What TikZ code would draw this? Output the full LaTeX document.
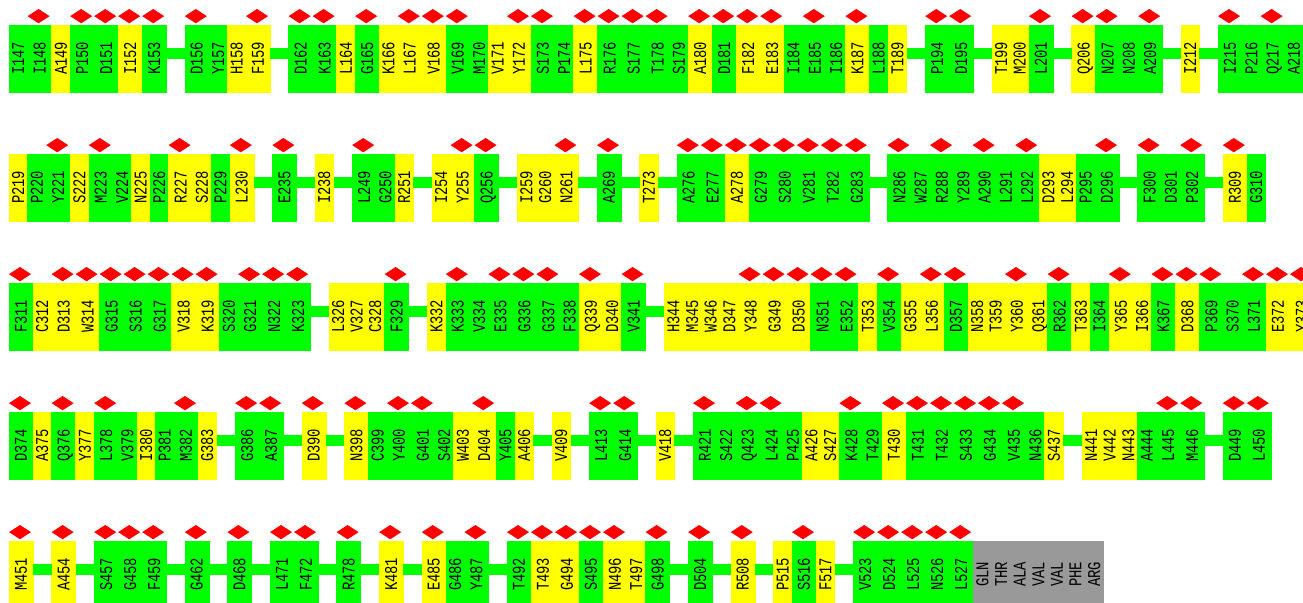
\documentclass[tikz,border=0pt]{standalone}
\usepackage{fontspec}
\setmonofont{Liberation Mono}
\usetikzlibrary{calc}
\definecolor{colG}{RGB}{0,255,0}
\definecolor{colY}{RGB}{255,255,0}
\definecolor{colX}{RGB}{153,153,153}
\definecolor{diared}{RGB}{255,0,0}
\newcommand\dW{24}
\newcommand\nW{18.6}
\newcommand\gapW{18.6}
\gdef\curx{9}
\gdef\rowtop{25}
\gdef\pendconn{0}
\gdef\prevname{}
\newcommand\restext[1]{\rotatebox{90}{\scalebox{1}[1.3]{\vphantom{0}\smash{#1}}}}
\newcommand\NewRow[1]{\xdef\curx{9}\pgfmathsetmacro\myTmp{25+129*(#1-1)}\xdef\rowtop{\myTmp}\gdef\pendconn{0}}
\newcommand\Gap{\pgfmathsetmacro\myTmp{\curx+\gapW}\xdef\curx{\myTmp}\gdef\pendconn{1}}
\newcommand\ResN[4]{%
  \ifnum#4=1 \let\cw\dW \else \let\cw\nW \fi
  \node[cell, fill=col#3, draw=col#3, minimum width=\cw*0.75pt] (#1) at (\curx+\cw/2, \rowtop+33.35) {\restext{#2}};
  \ifnum#4=1 \fill[dia] ([yshift=6.64pt]#1.north west) -- ++(11,-7.15) -- ++(11,7.15) -- ++(-11,7.15) -- cycle;\fi
  \ifnum\pendconn=1 \draw[conn] ([yshift=-21.5pt]\prevname.north east) -- ([yshift=-21.5pt]#1.north west);\gdef\pendconn{0}\fi
  \pgfmathsetmacro\myTmp{\curx+\cw}\xdef\curx{\myTmp}\xdef\prevname{#1}}
\newcommand\Res[3]{\ResN{#1}{#1}{#2}{#3}}
\tikzset{
  cell/.style={rectangle, inner sep=0pt, outer sep=0pt, minimum height=50.03pt, line width=0.3pt,
    font=\ttfamily\fontsize{10.4}{11}\selectfont, text=black},
  dia/.style={fill=diared},
  conn/.style={draw=colG, line width=8.25pt, line cap=butt}
}
\begin{document}
\begin{tikzpicture}[x=0.75pt, y=-0.75pt]
\useasboundingbox (0,0) rectangle (1303,603);
\fill[white] (0,0) rectangle (1303,603);
\clip (0,0) rectangle (1303,603);
% Row 1
\NewRow{1}
\Res{I147}{G}{0}
\Res{I148}{G}{1}
\Res{A149}{Y}{0}
\Res{P150}{G}{1}
\Res{D151}{G}{1}
\Res{I152}{Y}{1}
\Res{K153}{G}{1}
\Gap
\Res{D156}{G}{1}
\Res{Y157}{G}{0}
\Res{H158}{Y}{0}
\Res{F159}{Y}{1}
\Gap
\Res{D162}{G}{1}
\Res{K163}{G}{1}
\Res{L164}{Y}{0}
\Res{G165}{G}{1}
\Res{K166}{Y}{0}
\Res{L167}{Y}{1}
\Res{V168}{Y}{1}
\Res{V169}{G}{1}
\Res{M170}{G}{0}
\Res{V171}{Y}{0}
\Res{Y172}{Y}{1}
\Res{S173}{G}{1}
\Res{P174}{G}{0}
\Res{L175}{Y}{1}
\Res{R176}{G}{1}
\Res{S177}{G}{1}
\Res{T178}{G}{1}
\Res{S179}{G}{0}
\Res{A180}{Y}{1}
\Res{D181}{G}{1}
\Res{F182}{Y}{1}
\Res{E183}{Y}{1}
\Res{I184}{G}{0}
\Res{E185}{G}{1}
\Res{I186}{G}{0}
\Res{K187}{Y}{1}
\Res{L188}{G}{0}
\Res{T189}{Y}{0}
\Gap
\Res{P194}{G}{1}
\Res{D195}{G}{1}
\Gap
\Res{T199}{Y}{0}
\Res{M200}{Y}{0}
\Res{L201}{G}{1}
\Gap
\Res{Q206}{Y}{1}
\Res{N207}{G}{1}
\Res{N208}{G}{0}
\Res{A209}{G}{1}
\Gap
\Res{I212}{Y}{0}
\Gap
\Res{I215}{G}{1}
\Res{P216}{G}{0}
\Res{Q217}{G}{1}
\Res{A218}{G}{0}
% Row 2
\NewRow{2}
\Res{P219}{Y}{0}
\Res{P220}{G}{0}
\Res{Y221}{G}{1}
\Res{S222}{Y}{0}
\Res{M223}{G}{1}
\Res{V224}{G}{0}
\Res{N225}{Y}{0}
\Res{P226}{G}{0}
\Res{R227}{Y}{1}
\Res{S228}{Y}{0}
\Res{P229}{G}{0}
\Res{L230}{Y}{1}
\Gap
\Res{E235}{G}{1}
\Gap
\Res{I238}{Y}{0}
\Gap
\Res{L249}{G}{1}
\Res{G250}{G}{0}
\Res{R251}{Y}{0}
\Gap
\Res{I254}{Y}{0}
\Res{Y255}{Y}{1}
\Res{Q256}{G}{1}
\Gap
\Res{I259}{Y}{0}
\Res{G260}{Y}{0}
\Res{N261}{Y}{1}
\Gap
\Res{A269}{G}{1}
\Gap
\Res{T273}{Y}{0}
\Gap
\Res{A276}{G}{1}
\Res{E277}{G}{1}
\Res{A278}{Y}{1}
\Res{G279}{G}{1}
\Res{S280}{G}{1}
\Res{V281}{G}{1}
\Res{T282}{G}{1}
\Res{G283}{G}{1}
\Gap
\Res{N286}{G}{1}
\Res{W287}{G}{0}
\Res{R288}{G}{1}
\Res{Y289}{G}{0}
\Res{A290}{G}{1}
\Res{L291}{G}{0}
\Res{L292}{G}{1}
\Res{D293}{Y}{0}
\Res{L294}{Y}{0}
\Res{P295}{G}{0}
\Res{D296}{G}{1}
\Gap
\Res{F300}{G}{1}
\Res{D301}{G}{0}
\Res{P302}{G}{1}
\Gap
\Res{R309}{Y}{1}
\Res{G310}{G}{0}
% Row 3
\NewRow{3}
\Res{F311}{G}{1}
\Res{C312}{Y}{0}
\Res{D313}{Y}{1}
\Res{W314}{Y}{1}
\Res{G315}{G}{1}
\Res{S316}{G}{1}
\Res{G317}{G}{1}
\Res{V318}{Y}{1}
\Res{K319}{Y}{1}
\Res{S320}{G}{0}
\Res{G321}{G}{1}
\Res{N322}{G}{1}
\Res{K323}{G}{1}
\Gap
\Res{L326}{Y}{0}
\Res{V327}{Y}{0}
\Res{C328}{Y}{0}
\Res{F329}{G}{1}
\Gap
\Res{K332}{Y}{0}
\Res{K333}{G}{1}
\Res{V334}{G}{0}
\Res{E335}{G}{1}
\Res{G336}{G}{1}
\Res{G337}{G}{1}
\Res{F338}{G}{0}
\Res{Q339}{Y}{1}
\Res{D340}{Y}{0}
\Res{V341}{G}{1}
\Gap
\Res{H344}{Y}{0}
\Res{M345}{Y}{0}
\Res{W346}{Y}{0}
\Res{D347}{Y}{0}
\Res{Y348}{Y}{1}
\Res{G349}{Y}{1}
\Res{D350}{Y}{1}
\Res{N351}{G}{1}
\Res{E352}{G}{1}
\Res{T353}{Y}{0}
\Res{V354}{G}{1}
\Res{G355}{Y}{0}
\Res{L356}{Y}{1}
\Res{D357}{G}{1}
\Res{N358}{Y}{0}
\Res{T359}{Y}{0}
\Res{Y360}{Y}{1}
\Res{Q361}{Y}{0}
\Res{R362}{G}{1}
\Res{T363}{Y}{0}
\Res{I364}{G}{0}
\Res{Y365}{Y}{1}
\Res{I366}{Y}{0}
\Res{K367}{G}{1}
\Res{D368}{Y}{1}
\Res{P369}{G}{1}
\Res{S370}{G}{0}
\Res{L371}{G}{1}
\Res{E372}{Y}{1}
\Res{Y373}{Y}{1}
% Row 4
\NewRow{4}
\Res{D374}{G}{1}
\Res{A375}{Y}{0}
\Res{Q376}{G}{1}
\Res{Y377}{Y}{0}
\Res{L378}{G}{1}
\Res{V379}{G}{0}
\Res{I380}{Y}{0}
\Res{P381}{G}{0}
\Res{M382}{G}{1}
\Res{G383}{Y}{0}
\Gap
\Res{G386}{G}{1}
\Res{A387}{G}{1}
\Gap
\Res{D390}{Y}{1}
\Gap
\Res{N398}{Y}{1}
\Res{C399}{G}{0}
\Res{Y400}{G}{1}
\Res{G401}{G}{1}
\Res{S402}{G}{0}
\Res{W403}{Y}{0}
\Res{D404}{Y}{1}
\Res{Y405}{G}{0}
\Res{A406}{Y}{0}
\Gap
\Res{V409}{Y}{0}
\Gap
\Res{L413}{G}{1}
\Res{G414}{G}{1}
\Gap
\Res{V418}{Y}{0}
\Gap
\Res{R421}{G}{1}
\Res{S422}{G}{0}
\Res{Q423}{G}{1}
\Res{L424}{G}{1}
\Res{P425}{G}{0}
\Res{A426}{Y}{0}
\Res{S427}{Y}{0}
\Res{K428}{G}{1}
\Res{T429}{G}{0}
\Res{T430}{Y}{1}
\Res{T431}{G}{1}
\Res{T432}{G}{1}
\Res{S433}{G}{1}
\Res{G434}{G}{1}
\Res{V435}{G}{1}
\Res{N436}{G}{0}
\Res{S437}{Y}{0}
\Gap
\Res{N441}{Y}{0}
\Res{V442}{Y}{0}
\Res{N443}{Y}{0}
\Res{A444}{G}{0}
\Res{L445}{G}{1}
\Res{M446}{G}{1}
\Gap
\Res{D449}{G}{1}
\Res{L450}{G}{1}
% Row 5
\NewRow{5}
\Res{M451}{Y}{1}
\Gap
\Res{A454}{Y}{1}
\Gap
\Res{S457}{G}{1}
\Res{G458}{G}{1}
\Res{F459}{G}{1}
\Gap
\Res{G462}{G}{1}
\Gap
\Res{D468}{G}{1}
\Gap
\Res{L471}{G}{1}
\Res{F472}{G}{1}
\Gap
\Res{R478}{G}{1}
\Gap
\Res{K481}{Y}{1}
\Gap
\Res{E485}{Y}{1}
\Res{G486}{G}{0}
\Res{Y487}{G}{1}
\Gap
\Res{T492}{G}{1}
\Res{T493}{Y}{1}
\Res{G494}{Y}{1}
\Res{S495}{G}{1}
\Res{N496}{Y}{1}
\Res{T497}{Y}{0}
\Res{G498}{G}{1}
\Gap
\Res{D504}{G}{1}
\Gap
\Res{R508}{Y}{1}
\Gap
\Res{P515}{Y}{0}
\Res{S516}{G}{1}
\Res{F517}{Y}{0}
\Gap
\Res{V523}{G}{1}
\Res{D524}{G}{1}
\Res{L525}{G}{1}
\Res{N526}{G}{1}
\Res{L527}{G}{1}
\ResN{g1}{GLN}{X}{0}
\ResN{g2}{THR}{X}{0}
\ResN{g3}{ALA}{X}{0}
\ResN{g4}{VAL}{X}{0}
\ResN{g5}{VAL}{X}{0}
\ResN{g6}{PHE}{X}{0}
\ResN{g7}{ARG}{X}{0}
\end{tikzpicture}
\end{document}
